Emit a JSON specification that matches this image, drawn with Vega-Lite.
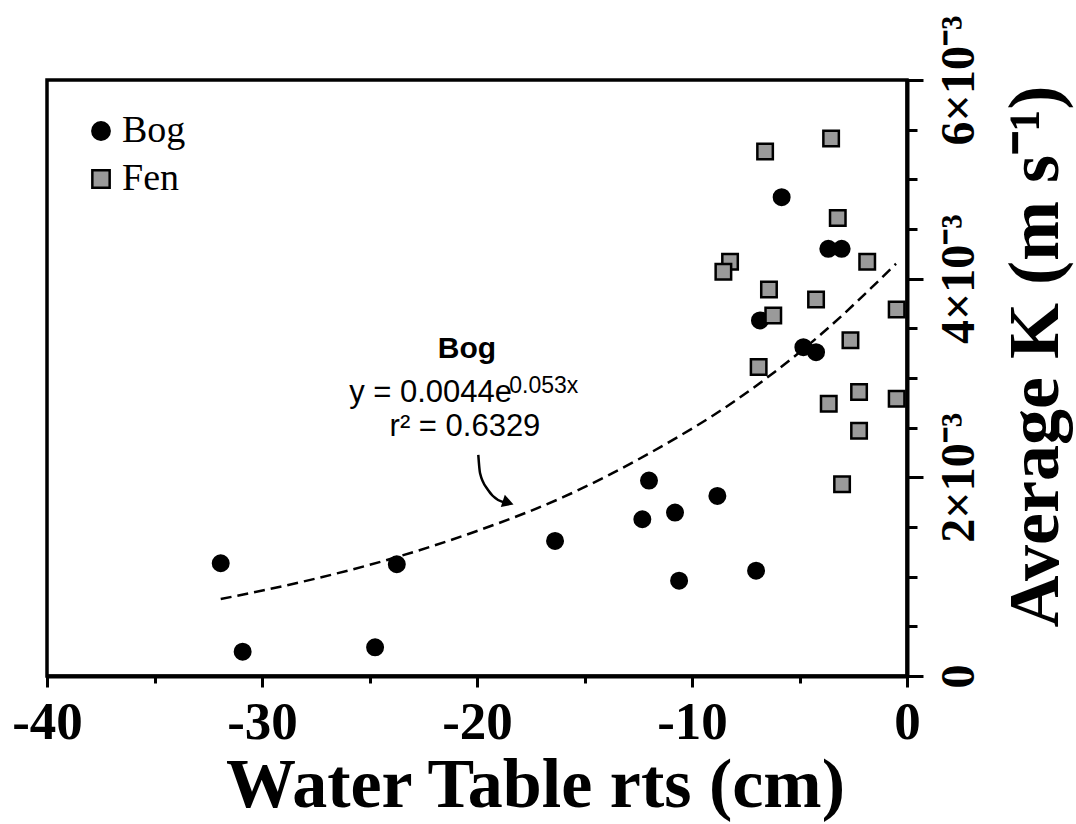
{
  "$schema": "https://vega.github.io/schema/vega-lite/v6.json",
  "width": 860,
  "height": 596,
  "autosize": "none",
  "padding": {"left": 47, "top": 80, "right": 169, "bottom": 148},
  "background": "white",
  "config": {
    "view": {"stroke": "black", "strokeWidth": 3.5},
    "axis": {"grid": false, "domainColor": "black", "tickColor": "black", "labelColor": "black", "titleColor": "black"},
    "legend": {"orient": "none", "legendX": 35, "legendY": 32, "title": null, "labelFont": "Liberation Serif", "labelFontSize": 38, "labelColor": "black", "symbolSize": 300, "rowPadding": 10, "labelOffset": 2, "symbolStrokeWidth": 2.5}
  },
  "datasets": {
    "pts": [
      {"type": "Bog", "x": -31.92, "k": 0.001135},
      {"type": "Bog", "x": -30.9, "k": 0.000245},
      {"type": "Bog", "x": -24.74, "k": 0.000289},
      {"type": "Bog", "x": -23.73, "k": 0.001125},
      {"type": "Bog", "x": -16.37, "k": 0.00136},
      {"type": "Bog", "x": -12.31, "k": 0.001578},
      {"type": "Bog", "x": -12.0, "k": 0.001967},
      {"type": "Bog", "x": -10.79, "k": 0.001645},
      {"type": "Bog", "x": -10.6, "k": 0.00096},
      {"type": "Bog", "x": -8.82, "k": 0.001813},
      {"type": "Bog", "x": -7.02, "k": 0.00106},
      {"type": "Bog", "x": -6.84, "k": 0.00358},
      {"type": "Bog", "x": -5.83, "k": 0.00482},
      {"type": "Bog", "x": -4.82, "k": 0.00331},
      {"type": "Bog", "x": -4.23, "k": 0.00326},
      {"type": "Bog", "x": -3.66, "k": 0.0043},
      {"type": "Bog", "x": -3.04, "k": 0.0043},
      {"type": "Fen", "x": -6.6, "k": 0.00528},
      {"type": "Fen", "x": -3.53, "k": 0.00541},
      {"type": "Fen", "x": -3.22, "k": 0.00461},
      {"type": "Fen", "x": -1.85, "k": 0.00417},
      {"type": "Fen", "x": -8.23, "k": 0.00417},
      {"type": "Fen", "x": -8.54, "k": 0.00407},
      {"type": "Fen", "x": -6.42, "k": 0.00389},
      {"type": "Fen", "x": -4.23, "k": 0.00379},
      {"type": "Fen", "x": -6.22, "k": 0.00363},
      {"type": "Fen", "x": -0.48, "k": 0.00369},
      {"type": "Fen", "x": -2.63, "k": 0.00338},
      {"type": "Fen", "x": -6.9, "k": 0.00311},
      {"type": "Fen", "x": -2.23, "k": 0.00286},
      {"type": "Fen", "x": -0.48, "k": 0.00279},
      {"type": "Fen", "x": -3.64, "k": 0.00274},
      {"type": "Fen", "x": -2.23, "k": 0.00247},
      {"type": "Fen", "x": -3.02, "k": 0.00193}
    ],
    "curve": [
      {"x": -31.92, "k": 0.000775},
      {"x": -28.0, "k": 0.000955},
      {"x": -24.0, "k": 0.00118},
      {"x": -20.0, "k": 0.00146},
      {"x": -16.0, "k": 0.0018},
      {"x": -12.0, "k": 0.00224},
      {"x": -8.0, "k": 0.00277},
      {"x": -4.0, "k": 0.00344},
      {"x": -0.51, "k": 0.00415}
    ],
    "arrow": [
      {"x": -19.94, "k": 0.002226},
      {"x": -19.86, "k": 0.002044},
      {"x": -19.49, "k": 0.001873},
      {"x": -19.02, "k": 0.001772},
      {"x": -18.6, "k": 0.001745}
    ]
  },
  "encoding": {
    "x": {
      "field": "x", "type": "quantitative",
      "scale": {"domain": [-40, 0], "nice": false, "zero": false},
      "axis": {
        "title": "Water Table rts (cm)",
        "values": [-40, -35, -30, -25, -20, -15, -10, -5, 0],
        "labelExpr": "datum.value % 10 == 0 ? toString(datum.value) : ''",
        "labelFont": "Liberation Serif", "labelFontWeight": "bold", "labelFontSize": 53,
        "labelBaseline": "alphabetic", "labelAlign": "center", "labelPadding": 51,
        "labelFlush": false, "labelOverlap": false,
        "domainWidth": 4, "tickWidth": 3,
        "tickSize": {"condition": {"test": "datum.value % 10 == 0", "value": 11}, "value": 7},
        "titleFont": "Liberation Serif", "titleFontWeight": "bold", "titleFontSize": 70,
        "titleX": 488, "titleY": 130, "titleBaseline": "alphabetic", "titleAlign": "center"
      }
    },
    "y": {
      "field": "k", "type": "quantitative",
      "scale": {"domain": [0, 0.006], "nice": false},
      "axis": {
        "orient": "right",
        "title": "Average K (m s⁻¹)",
        "values": [0, 0.0005, 0.001, 0.0015, 0.002, 0.0025, 0.003, 0.0035, 0.004, 0.0045, 0.005, 0.0055, 0.006],
        "labelExpr": "round(datum.value*2000) % 4 == 0 ? (datum.value == 0 ? '0' : toString(round(datum.value*1000)) + '×10⁻³') : ''",
        "labelFont": "Liberation Serif", "labelFontWeight": "bold", "labelFontSize": 48,
        "labelAngle": 270, "labelAlign": "center", "labelBaseline": "top", "labelPadding": 12,
        "labelFlush": false, "labelOverlap": false,
        "domainWidth": 4, "tickWidth": 3,
        "tickSize": {"condition": {"test": "round(datum.value*2000) % 4 == 0", "value": 16}, "value": 10},
        "titleFont": "Liberation Serif", "titleFontWeight": "bold", "titleFontSize": 72,
        "titleAngle": 270, "titleAlign": "center", "titleBaseline": "top",
        "titleX": 93, "titleY": 276
      }
    }
  },
  "layer": [
    {
      "data": {"name": "curve"},
      "mark": {"type": "line", "color": "black", "strokeWidth": 2.5, "strokeDash": [11, 6], "interpolate": "monotone"},
      "encoding": {}
    },
    {
      "data": {"name": "arrow"},
      "mark": {"type": "line", "color": "black", "strokeWidth": 2.5, "interpolate": "monotone"},
      "encoding": {"order": {"field": "k", "sort": "descending"}}
    },
    {
      "data": {"values": [{"x": -18.55, "k": 0.001745}]},
      "mark": {"type": "point", "shape": "triangle-right", "filled": true, "color": "black", "size": 170, "angle": 18, "opacity": 1}
    },
    {
      "data": {"name": "pts"},
      "mark": {"type": "point", "filled": true, "strokeWidth": 2.5, "size": 240, "opacity": 1, "fillOpacity": 1, "strokeOpacity": 1},
      "encoding": {
        "shape": {"field": "type", "type": "nominal", "scale": {"domain": ["Bog", "Fen"], "range": ["circle", "square"]}, "legend": {"title": null}},
        "fill": {"field": "type", "type": "nominal", "scale": {"domain": ["Bog", "Fen"], "range": ["#000000", "#9a9a9a"]}, "legend": {"title": null}},
        "stroke": {"field": "type", "type": "nominal", "scale": {"domain": ["Bog", "Fen"], "range": ["#000000", "#000000"]}, "legend": {"title": null}}
      }
    },
    {
      "data": {"values": [{"x": -20.47, "k": 0.0032, "text": "Bog"}]},
      "mark": {"type": "text", "font": "Liberation Sans", "fontWeight": "bold", "fontSize": 30, "align": "center", "baseline": "alphabetic", "color": "black"},
      "encoding": {"text": {"field": "text"}}
    },
    {
      "data": {"values": [{"x": -18.37, "k": 0.00276, "text": "y = 0.0044e"}]},
      "mark": {"type": "text", "font": "Liberation Sans", "fontSize": 31, "align": "right", "baseline": "alphabetic", "color": "black"},
      "encoding": {"text": {"field": "text"}}
    },
    {
      "data": {"values": [{"x": -18.5, "k": 0.00285, "text": "0.053x"}]},
      "mark": {"type": "text", "font": "Liberation Sans", "fontSize": 23, "align": "left", "baseline": "alphabetic", "color": "black"},
      "encoding": {"text": {"field": "text"}}
    },
    {
      "data": {"values": [{"x": -20.56, "k": 0.002417, "text": "r² = 0.6329"}]},
      "mark": {"type": "text", "font": "Liberation Sans", "fontSize": 31, "align": "center", "baseline": "alphabetic", "color": "black"},
      "encoding": {"text": {"field": "text"}}
    }
  ]
}
